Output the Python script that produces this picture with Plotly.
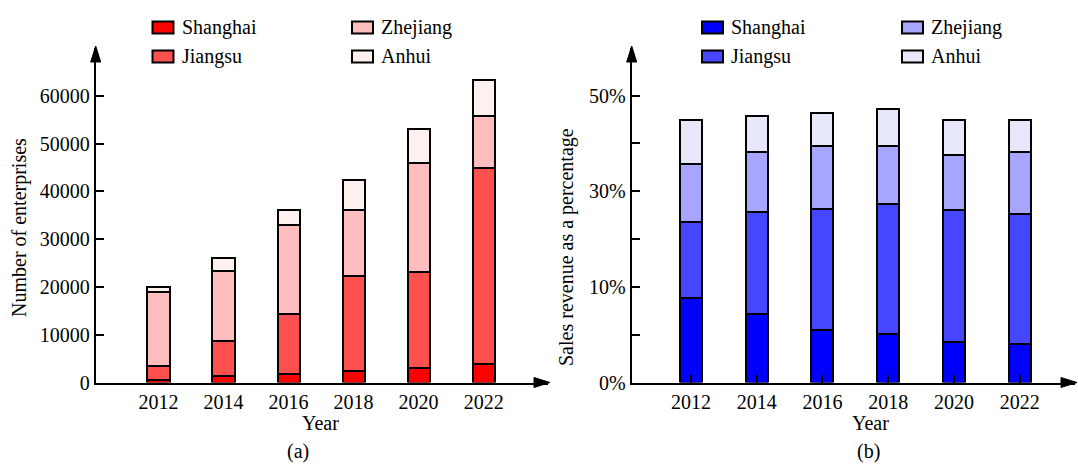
import plotly.graph_objects as go

# ---- data -------------------------------------------------------------
years = ["2012", "2014", "2016", "2018", "2020", "2022"]
regions = ["Shanghai", "Jiangsu", "Zhejiang", "Anhui"]

# (a) number of enterprises per region
ent_shanghai = [500, 1300, 1800, 2400, 3100, 3900]
ent_jiangsu = [3000, 7400, 12500, 19800, 20100, 41000]
ent_zhejiang = [15400, 14700, 18600, 14000, 22700, 10900]
ent_anhui = [1000, 2600, 3100, 6200, 7100, 7600]

# (b) sales revenue share per region (axis units)
share_shanghai = [14.7, 12.0, 9.2, 8.4, 7.1, 6.7]
share_jiangsu = [13.2, 17.8, 21.1, 22.7, 22.9, 22.7]
share_zhejiang = [10.2, 10.4, 10.9, 10.1, 9.6, 10.8]
share_anhui = [7.6, 6.3, 5.8, 6.4, 6.1, 5.5]

ent_ticks = [0, 10000, 20000, 30000, 40000, 50000, 60000]
ent_ticktext = ["0", "10000", "20000", "30000", "40000", "50000", "60000"]
share_ticks = [0, 50 / 6, 100 / 6, 25, 200 / 6, 250 / 6, 50]
share_ticktext = ["0%", "", "10%", "", "30%", "", "50%"]

reds = ["#FF0000", "#FF5050", "#FFBDBD", "#FFF0F0"]
blues = ["#0000FF", "#4646FF", "#A6A6FF", "#E8E8FB"]

W, H = 1078, 465
FONT = "Liberation Serif"


def px(x):
    return x / W


def py(y):
    return 1 - y / H


fig = go.Figure()

ent_series = [ent_shanghai, ent_jiangsu, ent_zhejiang, ent_anhui]
share_series = [share_shanghai, share_jiangsu, share_zhejiang, share_anhui]

for name, vals, col in zip(regions, ent_series, reds):
    fig.add_trace(go.Bar(
        x=years, y=vals, name=name, xaxis="x", yaxis="y",
        marker=dict(color=col, line=dict(color="black", width=2)),
        width=0.34, showlegend=False,
    ))

for name, vals, col in zip(regions, share_series, blues):
    fig.add_trace(go.Bar(
        x=years, y=vals, name=name, xaxis="x2", yaxis="y2",
        marker=dict(color=col, line=dict(color="black", width=2)),
        width=0.335, showlegend=False,
    ))

y_dom = [py(382.5), py(48)]
axis_common = dict(
    showline=True, linecolor="black", linewidth=2,
    showgrid=False, zeroline=False, layer="above traces",
    tickfont=dict(family=FONT, size=20, color="black"),
)

fig.update_layout(
    width=W, height=H, autosize=False,
    margin=dict(l=0, r=0, t=0, b=0, pad=0, autoexpand=False),
    paper_bgcolor="white", plot_bgcolor="white",
    barmode="stack",
    font=dict(family=FONT, size=20, color="black"),
    xaxis=dict(domain=[px(95.7), px(548)], type="category",
               range=[-0.966, 5.99], ticks="", anchor="y", **axis_common),
    yaxis=dict(domain=y_dom, range=[0, 70000], tickvals=ent_ticks,
               ticktext=ent_ticktext, ticks="inside", ticklen=8, tickwidth=2,
               tickcolor="black", anchor="x", **axis_common),
    xaxis2=dict(domain=[px(631.7), px(1075)], type="category",
                range=[-0.90, 5.84], ticks="inside", ticklen=8, tickwidth=2,
                tickcolor="black", anchor="y2", **axis_common),
    yaxis2=dict(domain=y_dom, range=[0, 58.3], tickvals=share_ticks,
                ticktext=share_ticktext, ticks="inside", ticklen=8, tickwidth=2,
                tickcolor="black", anchor="x2", **axis_common),
)

# Arrowheads at the axis ends
shapes = []


def up_arrow(x, tip):
    return dict(type="path", xref="paper", yref="paper",
                path=f"M {px(x)} {py(tip)} L {px(x - 5)} {py(tip + 16)} "
                     f"L {px(x + 5)} {py(tip + 16)} Z",
                fillcolor="black", line=dict(color="black", width=1))


def right_arrow(tip, y):
    return dict(type="path", xref="paper", yref="paper",
                path=f"M {px(tip)} {py(y)} L {px(tip - 16)} {py(y - 5)} "
                     f"L {px(tip - 16)} {py(y + 5)} Z",
                fillcolor="black", line=dict(color="black", width=1))


shapes += [up_arrow(95.7, 46), right_arrow(550, 382.5),
           up_arrow(631.7, 46), right_arrow(1077, 382.5)]

# Legends: two columns, two rows per panel
annotations = []
legend_layout = [(0, 0), (0, 1), (1, 0), (1, 1)]  # (column, row) per region
for colors, col_x in ((reds, (152.5, 352)), (blues, (702, 902))):
    for (c, r), name, col in zip(legend_layout, regions, colors):
        x0 = col_x[c]
        yc = 27.5 + 29 * r
        shapes.append(dict(type="rect", xref="paper", yref="paper",
                           x0=px(x0), x1=px(x0 + 21), y0=py(yc + 6), y1=py(yc - 6),
                           fillcolor=col, line=dict(color="black", width=2)))
        annotations.append(dict(x=px(x0 + 27), y=py(yc), xref="paper", yref="paper",
                                text=name, showarrow=False, xanchor="left",
                                yanchor="middle",
                                font=dict(family=FONT, size=20, color="black")))


# Axis titles and panel captions
def label(text, x, y, angle=0):
    return dict(x=px(x), y=py(y), xref="paper", yref="paper", text=text,
                showarrow=False, xanchor="center", yanchor="middle", textangle=angle,
                font=dict(family=FONT, size=20, color="black"))


annotations += [
    label("Number of enterprises", 20, 228, -90),
    label("Sales revenue as a percentage", 567, 247, -90),
    label("Year", 320, 423),
    label("Year", 870, 423),
    label("(a)", 298, 451),
    label("(b)", 868, 451),
]

fig.update_layout(shapes=shapes, annotations=annotations)

fig.write_html("out.html", config={"responsive": False})
